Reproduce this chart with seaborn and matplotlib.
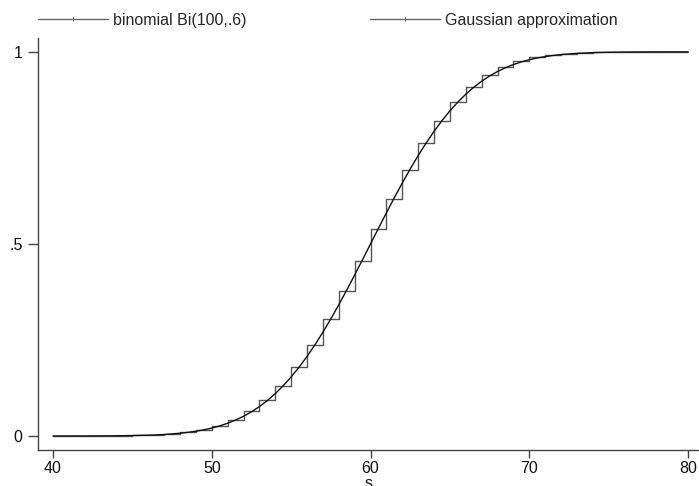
import matplotlib
matplotlib.use("Agg")
import matplotlib.pyplot as plt
from matplotlib.lines import Line2D
import seaborn as sns
import pandas as pd

# Binomial Bi(100, .6) cumulative distribution at s = 40..80
binom_s = list(range(40, 81))
binom_cdf = [0.00004, 0.00010, 0.00021, 0.00044, 0.00088, 0.00171, 0.00320,
             0.00576, 0.01001, 0.01677, 0.02710, 0.04231, 0.06380, 0.09299,
             0.13110, 0.17891, 0.23654, 0.30327, 0.37748, 0.45672, 0.53794,
             0.61783, 0.69321, 0.76141, 0.82055, 0.86968, 0.90876, 0.93851,
             0.96017, 0.97524, 0.98525, 0.99159, 0.99542, 0.99763, 0.99883,
             0.99946, 0.99977, 0.99992, 0.99997, 0.99999, 1.00000]

# Gaussian approximation (smooth curve)
gauss_s = [40, 41, 42, 43, 44, 45, 46, 47, 48, 48.5, 49, 49.5, 50, 50.5,
           51, 51.5, 52, 52.5, 53, 53.5, 54, 54.5, 55, 55.5, 56, 56.5,
           57, 57.5, 58, 58.5, 59, 59.5, 60, 60.5, 61, 61.5, 62, 62.5,
           63, 63.5, 64, 64.5, 65, 65.5, 66, 66.5, 67, 67.5, 68, 68.5,
           69, 69.5, 70, 70.5, 71, 71.5, 72, 73, 74, 75, 76, 77, 78, 79, 80]
gauss_cdf = [0.00002, 0.00005, 0.00012, 0.00026, 0.00055, 0.00110, 0.00208,
             0.00379, 0.00720, 0.00950, 0.01240, 0.01600, 0.02060, 0.02620,
             0.03310, 0.04140, 0.05120, 0.06290, 0.07650, 0.09230, 0.11030,
             0.13080, 0.15370, 0.17910, 0.20710, 0.23750, 0.27010, 0.30490,
             0.34150, 0.37970, 0.41910, 0.45930, 0.50000, 0.54070, 0.58090,
             0.62030, 0.65850, 0.69510, 0.72990, 0.76250, 0.79290, 0.82090,
             0.84630, 0.86920, 0.88970, 0.90770, 0.92350, 0.93710, 0.94880,
             0.95860, 0.96690, 0.97380, 0.97940, 0.98400, 0.98760, 0.99050,
             0.99280, 0.99600, 0.99790, 0.99890, 0.99945, 0.99974, 0.99988,
             0.99995, 0.99998]

x_ticks = [40, 50, 60, 70, 80]
y_ticks = [0, 0.5, 1]
y_tick_labels = ["0", ".5", "1"]
legend_labels = ["binomial Bi(100,.6)", "Gaussian approximation"]

sns.set_theme(style="white")
plt.rcParams["font.family"] = ["Liberation Sans", "DejaVu Sans"]

W, H = 699, 486
fig = plt.figure(figsize=(W / 100, H / 100), dpi=100)
ax = fig.add_axes([38 / W, (H - 450) / H, (W - 38) / W, (450 - 38) / H])

df_b = pd.DataFrame({"s": binom_s, "F": binom_cdf})
df_g = pd.DataFrame({"s": gauss_s, "F": gauss_cdf})

step_color = "#555555"
gauss_color = "#111111"
sns.lineplot(data=df_b, x="s", y="F", ax=ax, drawstyle="steps-post",
             color=step_color, linewidth=1.0, estimator=None)
sns.lineplot(data=df_g, x="s", y="F", ax=ax, color=gauss_color,
             linewidth=1.0, estimator=None)

ax.set_xlim(39.055, 80.69)
ax.set_ylim(-0.0365, 1.036)
ax.set_xticks(x_ticks)
ax.set_xticklabels([str(v) for v in x_ticks])
ax.set_yticks(y_ticks)
ax.set_yticklabels(y_tick_labels)
ax.set_ylabel("")
ax.set_xlabel("s", fontsize=11.5, labelpad=0, color="#111111")

for side in ["top", "right"]:
    ax.spines[side].set_visible(False)
for side in ["left", "bottom"]:
    ax.spines[side].set_color("#444444")
    ax.spines[side].set_linewidth(1.0)

ax.tick_params(axis="x", direction="out", length=5.8, width=1.0,
               color="#444444", labelsize=11.5, pad=2, bottom=True,
               labelcolor="#111111")
ax.tick_params(axis="y", direction="out", length=7.2, width=1.0,
               color="#444444", labelsize=11.5, pad=4, left=True,
               labelcolor="#111111")
ax.grid(False)

handles = [Line2D([0], [0], color="#666666", linewidth=1.0, marker="|",
                  markersize=2.5, markeredgewidth=0.8),
           Line2D([0], [0], color="#666666", linewidth=1.0, marker="|",
                  markersize=2.5, markeredgewidth=0.8)]
fig.legend(handles, legend_labels, loc="center left",
           bbox_to_anchor=(38 / W, 1 - 20 / H), ncol=2, frameon=False,
           fontsize=11.5, handlelength=4.4, handletextpad=0.3,
           columnspacing=7.7, borderpad=0, borderaxespad=0, numpoints=1)

fig.savefig("out.png", dpi=100)
